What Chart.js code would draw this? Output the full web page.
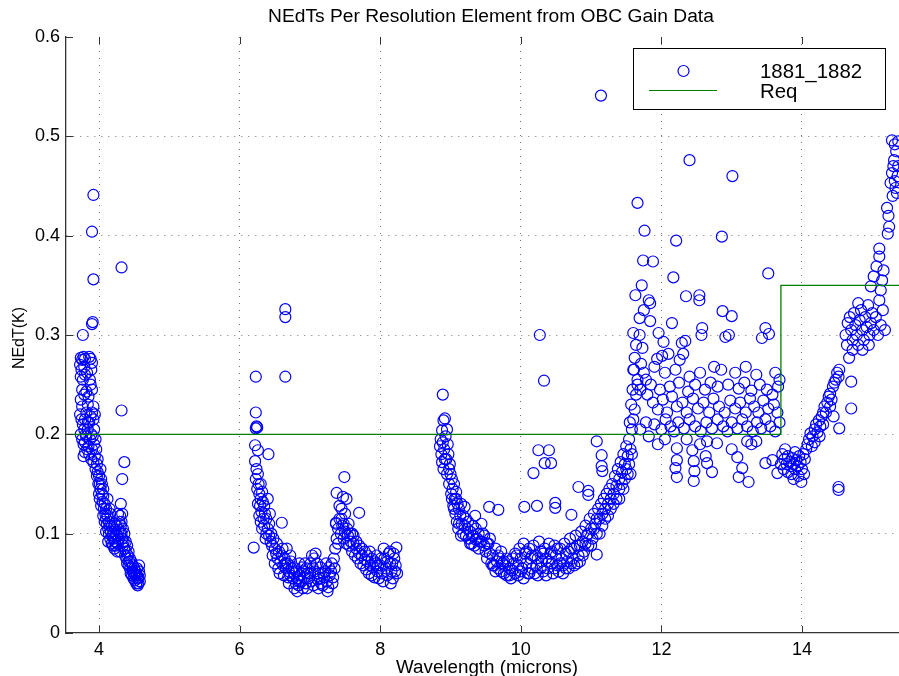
<!DOCTYPE html>
<html>
<head>
<meta charset="utf-8">
<script src="https://cdn.jsdelivr.net/npm/chart.js@4/dist/chart.umd.min.js"></script>
<style>
html,body{margin:0;padding:0;background:#fff;}
#c{display:block;}
</style>
</head>
<body>
<canvas id="c" width="899" height="676"></canvas>
<script>
// ---------------- DATA ----------------
const chartTitle = "NEdTs Per Resolution Element from OBC Gain Data";
const xAxisTitle = "Wavelength (microns)";
const yAxisTitle = "NEdT(K)";
const seriesName = "1881_1882";
const reqName = "Req";

const xTicks = [4, 6, 8, 10, 12, 14];
const yTicks = [0, 0.1, 0.2, 0.3, 0.4, 0.5, 0.6];
const xRange = [3.53, 15.38];
const yRange = [0, 0.6];

// Requirement line (wavelength, NEdT)
const reqWavelength = [3.53, 13.70, 13.70, 15.38];
const reqNedt = [0.2, 0.2, 0.35, 0.35];

// Band 1 : short-wave (wavelength, NEdT)
const band1 = [
[3.77,0.300],[3.74,0.277],[3.76,0.275],[3.78,0.278],[3.80,0.276],[3.73,0.270],[3.75,0.265],[3.79,0.268],
[3.74,0.258],[3.77,0.255],[3.80,0.260],[3.83,0.262],[3.86,0.278],[3.88,0.276],[3.90,0.272],[3.89,0.265],
[3.87,0.255],[3.76,0.245],[3.79,0.240],[3.82,0.243],[3.85,0.238],[3.88,0.250],[3.90,0.245],[3.84,0.230],
[3.92,0.441],[3.90,0.404],[4.32,0.368],[3.92,0.356],[3.91,0.313],[3.90,0.311],[4.32,0.224],[4.36,0.172],[4.33,0.155],
[3.73,0.220],[3.75,0.215],[3.77,0.210],[3.79,0.205],[3.81,0.200],[3.74,0.200],[3.76,0.195],[3.78,0.190],
[3.80,0.192],[3.82,0.198],[3.84,0.205],[3.86,0.212],[3.88,0.218],[3.90,0.222],[3.92,0.215],[3.93,0.205],
[3.91,0.198],[3.89,0.200],[3.87,0.195],[3.85,0.188],[3.83,0.185],[3.86,0.180],[3.80,0.182],[3.78,0.178],
[3.90,0.185],[3.93,0.190],[3.95,0.195],[3.96,0.185],[3.94,0.178],[3.97,0.170],[3.92,0.172],[3.89,0.175],[3.98,0.175],
[3.98,0.162],[4.00,0.158],[4.01,0.150],[4.03,0.155],[4.02,0.145],[4.04,0.140],[4.00,0.140],[4.05,0.132],
[4.06,0.138],[4.07,0.125],[4.03,0.128],[4.08,0.130],[4.09,0.120],[4.10,0.115],[4.06,0.118],[4.11,0.110],
[4.12,0.118],[4.13,0.105],[4.10,0.102],[4.14,0.100],[4.15,0.108],[4.16,0.095],[4.13,0.092],[4.17,0.102],
[4.18,0.090],[4.19,0.098],[4.20,0.088],[4.21,0.095],[4.22,0.085],[4.23,0.092],[4.24,0.100],[4.25,0.108],
[4.26,0.098],[4.27,0.090],[4.28,0.104],[4.29,0.112],[4.30,0.118],[4.31,0.108],[4.32,0.100],[4.33,0.095],
[4.34,0.088],[4.30,0.082],[4.35,0.092],[4.36,0.085],[4.37,0.078],[4.38,0.082],[4.39,0.075],[4.40,0.070],
[4.41,0.078],[4.42,0.068],[4.43,0.072],[4.44,0.065],[4.45,0.060],[4.46,0.066],[4.47,0.058],[4.48,0.062],
[4.49,0.055],[4.50,0.060],[4.51,0.053],[4.52,0.058],[4.53,0.050],[4.55,0.055],[4.56,0.050],[4.57,0.062],
[4.58,0.058],[4.54,0.065],[4.57,0.068],[4.27,0.120],[4.31,0.130],[4.33,0.120],[4.12,0.135],[4.15,0.125],
[4.02,0.165],[4.04,0.150],[4.06,0.145],[4.08,0.112],[4.10,0.125],[4.14,0.112],[4.16,0.120],[4.18,0.108],
[4.20,0.100],[4.22,0.110],[4.24,0.088],[4.26,0.082],[4.28,0.095],[4.30,0.100],[4.32,0.112],[4.34,0.105],
[4.36,0.100],[4.38,0.092],[4.40,0.088],[4.42,0.082],[4.44,0.075],[4.46,0.072],[4.48,0.068],[4.50,0.065],
[4.52,0.062],[4.54,0.058],[4.56,0.056],[4.58,0.052],[4.55,0.048],[3.95,0.165],[3.97,0.158],[3.99,0.150],
[4.01,0.135],[3.84,0.212],[3.82,0.222],[3.80,0.215],[3.76,0.228],[3.74,0.235],[3.92,0.228],[3.94,0.220]
];

// Band 2 : mid-wave (wavelength, NEdT)
const band2 = [
[6.23,0.258],[6.65,0.258],[6.65,0.318],[6.65,0.326],[6.23,0.222],[6.24,0.208],[6.23,0.206],[6.25,0.207],
[6.22,0.189],[6.26,0.184],[6.41,0.180],[6.22,0.173],[6.24,0.165],[6.26,0.160],[6.23,0.155],[6.27,0.150],
[6.25,0.145],[6.28,0.140],[6.30,0.135],[6.26,0.130],[6.29,0.128],[6.33,0.132],[6.31,0.122],[6.28,0.118],
[6.34,0.115],[6.36,0.120],[6.30,0.112],[6.32,0.105],[6.35,0.108],[6.38,0.100],[6.40,0.105],[6.42,0.098],
[6.37,0.095],[6.60,0.111],[6.20,0.086],[6.40,0.135],[6.43,0.120],
[6.44,0.092],[6.46,0.088],[6.48,0.095],[6.50,0.085],[6.52,0.080],[6.47,0.078],[6.54,0.075],[6.56,0.082],
[6.58,0.072],[6.60,0.078],[6.62,0.068],[6.64,0.075],[6.66,0.065],[6.68,0.070],[6.70,0.062],[6.72,0.058],
[6.74,0.065],[6.76,0.055],[6.78,0.060],[6.80,0.050],[6.82,0.055],[6.84,0.048],[6.86,0.058],[6.88,0.052],
[6.90,0.062],[6.92,0.056],[6.94,0.050],[6.96,0.045],[6.98,0.055],[7.00,0.060],[7.02,0.052],[7.04,0.066],
[7.06,0.075],[7.08,0.080],[7.10,0.070],[7.12,0.060],[7.14,0.055],[7.16,0.050],[7.18,0.048],[7.20,0.056],
[7.22,0.062],[7.24,0.052],[7.26,0.046],[7.28,0.058],[7.30,0.062],[7.32,0.050],[6.78,0.045],[6.82,0.042],
[6.90,0.045],[7.05,0.048],[7.12,0.045],[7.25,0.042],[6.70,0.050],[6.63,0.058],[6.55,0.065],[6.95,0.065],
[7.35,0.065],[6.67,0.085],[6.72,0.078],[6.85,0.070],
[7.34,0.075],[7.36,0.085],[7.38,0.095],[7.40,0.105],[7.37,0.110],[7.38,0.141],[7.49,0.157],[7.47,0.137],
[7.52,0.135],[7.45,0.125],[7.50,0.120],[7.70,0.121],[7.37,0.111],[7.42,0.115],[7.44,0.100],[7.46,0.108],
[7.48,0.095],[7.50,0.102],[7.52,0.090],[7.54,0.098],[7.56,0.088],[7.58,0.092],[7.60,0.082],[7.62,0.090],
[7.64,0.078],[7.66,0.085],[7.68,0.075],[7.70,0.080],[7.72,0.070],[7.74,0.078],[7.76,0.068],[7.78,0.074],
[7.80,0.064],[7.82,0.072],[7.84,0.060],[7.86,0.068],[7.88,0.058],[7.90,0.066],[7.92,0.056],[7.94,0.070],
[7.96,0.062],[7.98,0.055],[8.00,0.068],[8.02,0.060],[8.04,0.052],[8.06,0.075],[8.08,0.065],[8.10,0.058],
[8.12,0.080],[8.14,0.070],[8.16,0.062],[8.18,0.055],[8.20,0.075],[8.22,0.068],[8.23,0.086],[8.24,0.060],
[8.19,0.080],[7.85,0.082],[7.95,0.078],[8.05,0.085],[8.15,0.050],[7.40,0.090],[7.55,0.110],[7.60,0.100],
[6.50,0.070],[6.53,0.090],[6.57,0.060],[6.61,0.085],[6.65,0.070],[6.69,0.056],[6.73,0.072],[6.77,0.066],
[6.81,0.062],[6.85,0.052],[6.89,0.066],[6.93,0.070],[6.97,0.060],[7.01,0.070],[7.03,0.078],[7.07,0.062],
[7.11,0.054],[7.15,0.066],[7.19,0.060],[7.23,0.070],[7.27,0.066],[7.31,0.070],[7.33,0.056],[6.30,0.150],
[6.32,0.142],[6.35,0.128],[6.38,0.115],[6.42,0.110],[6.45,0.100],
[7.42,0.128],[7.45,0.115],[7.48,0.110],[7.53,0.105],[7.57,0.100],[7.62,0.098],[7.66,0.092],[7.70,0.088],
[7.74,0.085],[7.78,0.082],[7.82,0.078],[7.88,0.075],[7.92,0.072],[7.97,0.068],[8.01,0.075],[8.10,0.072],
[8.14,0.082],[8.17,0.070],[8.21,0.062]
];

// Band 3 : long-wave lower part (wavelength, NEdT)
const band3 = [
[8.89,0.240],[8.92,0.216],[8.90,0.214],[8.88,0.204],[8.86,0.195],[8.85,0.188],[8.87,0.180],[8.89,0.192],
[8.91,0.185],[8.93,0.198],[8.95,0.205],[8.96,0.190],[8.94,0.175],[8.88,0.172],[8.90,0.165],[8.97,0.180],
[8.99,0.170],[9.00,0.160],[9.02,0.155],[8.98,0.150],[9.03,0.145],[9.05,0.150],[9.01,0.140],[9.06,0.135],
[9.08,0.142],[9.04,0.128],[9.10,0.130],[9.07,0.120],[9.12,0.125],[9.09,0.112],[9.14,0.118],[9.11,0.105],
[9.16,0.110],[9.18,0.100],[9.20,0.108],[9.15,0.098],[9.22,0.115],[9.24,0.105],[9.26,0.095],[9.28,0.102],
[9.30,0.090],[9.32,0.098],[9.34,0.088],[9.36,0.105],[9.38,0.095],[9.40,0.085],[9.42,0.092],[9.44,0.110],
[9.46,0.100],[9.48,0.088],[9.50,0.082],[9.52,0.075],[9.54,0.090],[9.56,0.080],[9.58,0.070],[9.60,0.078],
[9.62,0.068],[9.64,0.085],[9.66,0.072],[9.68,0.065],[9.70,0.075],[9.72,0.062],[9.74,0.070],[9.76,0.060],
[9.78,0.068],[9.80,0.058],[9.82,0.072],[9.84,0.065],[9.86,0.055],[9.88,0.063],[9.90,0.070],[9.92,0.060],
[9.94,0.078],[9.96,0.068],[9.98,0.085],[10.00,0.075],[10.02,0.065],[10.04,0.090],[10.06,0.080],[10.08,0.070],
[10.10,0.060],[10.12,0.085],[10.14,0.075],[10.16,0.065],[10.18,0.088],[10.20,0.078],[10.22,0.068],[10.24,0.058],
[10.26,0.092],[10.28,0.082],[10.30,0.072],[10.32,0.062],[10.34,0.085],[10.36,0.075],[10.38,0.065],[10.40,0.090],
[10.42,0.080],[10.44,0.070],[10.46,0.060],[10.48,0.088],[10.50,0.078],[10.52,0.068],[10.54,0.062],[10.56,0.085],
[10.58,0.075],[10.60,0.068],[10.62,0.090],[10.64,0.080],[10.66,0.072],[10.68,0.065],[10.70,0.095],[10.72,0.085],
[10.74,0.075],[10.76,0.068],[10.78,0.098],[10.80,0.088],[10.82,0.078],[10.84,0.072],[10.86,0.102],[10.88,0.092],
[10.90,0.082],[10.92,0.108],[10.94,0.098],[10.96,0.088],[10.98,0.115],[11.00,0.105],[11.02,0.095],[11.04,0.120],
[11.06,0.110],[11.08,0.100],[11.10,0.125],[11.12,0.115],[11.14,0.130],[11.16,0.120],[11.18,0.135],[11.20,0.125],
[11.22,0.140],[11.24,0.130],[11.26,0.145],[11.28,0.135],[11.30,0.150],[11.32,0.140],[11.34,0.158],[11.36,0.148],
[11.38,0.165],[11.40,0.155],[11.42,0.172],[11.44,0.162],[11.46,0.180],[11.48,0.170],[11.50,0.188],[11.52,0.178],
[11.54,0.195],[11.56,0.185],[11.58,0.205],[11.60,0.215],[11.62,0.225],[11.64,0.240],[11.66,0.255],[11.55,0.212],
[11.57,0.230],[11.52,0.160],[11.46,0.145],[11.40,0.135],[11.59,0.245],[11.61,0.265],
[10.27,0.300],[10.33,0.254],[11.14,0.541],[10.25,0.184],[10.40,0.184],[10.34,0.171],[10.43,0.171],[10.18,0.161],
[10.82,0.147],[10.96,0.143],[10.96,0.139],[11.08,0.193],[11.15,0.179],[11.15,0.168],[11.16,0.163],[10.05,0.127],
[10.23,0.128],[10.49,0.131],[10.49,0.126],[10.72,0.119],[11.08,0.079],[9.20,0.127],[9.35,0.118],[9.55,0.127],[9.68,0.124],
[8.92,0.175],[8.95,0.160],[8.98,0.165],[9.02,0.135],[9.05,0.125],[9.08,0.135],[9.12,0.110],[9.15,0.130],
[9.18,0.118],[9.22,0.098],[9.25,0.112],[9.28,0.090],[9.32,0.108],[9.36,0.094],[9.40,0.100],[9.44,0.092],
[9.48,0.098],[9.52,0.090],[9.56,0.095],[9.60,0.068],[9.64,0.062],[9.68,0.078],[9.72,0.082],[9.76,0.072],
[9.80,0.075],[9.84,0.058],[9.88,0.075],[9.92,0.080],[9.96,0.058],[10.00,0.062],[10.04,0.055],[10.08,0.082],
[10.12,0.060],[10.16,0.078],[10.20,0.060],[10.24,0.075],[10.28,0.065],[10.32,0.080],[10.36,0.058],[10.40,0.072],
[10.44,0.082],[10.48,0.065],[10.52,0.085],[10.56,0.070],[10.60,0.060],[10.64,0.065],[10.68,0.082],[10.72,0.070],
[10.76,0.085],[10.80,0.070],[10.84,0.088],[10.88,0.078],[10.92,0.090],[10.96,0.100],[11.00,0.088],[11.04,0.105],
[11.08,0.115],[11.12,0.100],[11.16,0.108],[11.20,0.115],[11.24,0.118],[11.28,0.125],[11.32,0.130],[11.36,0.135],
[11.40,0.145],[11.44,0.150],[11.48,0.155],[11.50,0.165],[11.54,0.170],[11.58,0.180],[11.56,0.160]
];

// Band 4 : long-wave scattered part (wavelength, NEdT)
const band4 = [
[11.66,0.433],[11.76,0.405],[12.21,0.395],[12.86,0.399],[11.74,0.375],[11.88,0.374],[12.17,0.358],[13.52,0.362],
[11.72,0.350],[11.63,0.340],[12.35,0.339],[12.54,0.340],[12.54,0.335],[11.82,0.335],[11.84,0.332],[11.75,0.325],
[11.69,0.317],[12.87,0.324],[13.00,0.319],[11.84,0.314],[12.15,0.312],[12.58,0.307],[12.57,0.300],[13.48,0.307],
[13.53,0.301],[13.43,0.297],[12.91,0.298],[12.96,0.300],[11.96,0.302],[12.03,0.293],[12.34,0.294],[12.29,0.292],
[12.40,0.476],[13.01,0.460],
[11.60,0.302],[11.69,0.300],[11.64,0.290],[11.73,0.287],[11.62,0.277],[11.71,0.271],[11.60,0.265],[11.75,0.262],
[11.78,0.255],[11.66,0.250],[11.70,0.245],[11.80,0.240],[12.10,0.281],[12.01,0.279],[11.94,0.276],[12.26,0.275],[12.31,0.281],
[11.90,0.268],[12.05,0.262],[12.20,0.265],[12.40,0.258],[12.55,0.262],[12.75,0.268],[12.85,0.265],[13.05,0.262],
[13.20,0.268],[13.35,0.260],[13.62,0.262],[13.68,0.255],
[11.85,0.250],[11.98,0.245],[12.12,0.248],[12.25,0.252],[12.38,0.243],[12.48,0.250],[12.62,0.245],[12.70,0.252],
[12.80,0.248],[12.95,0.250],[13.10,0.246],[13.18,0.252],[13.28,0.244],[13.40,0.250],[13.50,0.245],[13.58,0.240],[13.66,0.248],
[11.88,0.232],[11.95,0.225],[12.02,0.235],[12.08,0.222],[12.15,0.238],[12.22,0.228],[12.30,0.232],[12.36,0.222],
[12.45,0.236],[12.52,0.226],[12.60,0.232],[12.68,0.222],[12.74,0.236],[12.82,0.228],[12.90,0.222],[12.98,0.234],
[13.05,0.226],[13.12,0.232],[13.20,0.222],[13.26,0.236],[13.32,0.228],[13.38,0.222],[13.45,0.234],[13.52,0.226],
[13.60,0.230],[13.65,0.222],
[11.90,0.210],[12.00,0.205],[12.06,0.215],[12.13,0.208],[12.18,0.203],[12.24,0.212],[12.32,0.206],[12.40,0.215],
[12.48,0.208],[12.56,0.203],[12.64,0.212],[12.72,0.206],[12.80,0.215],[12.88,0.208],[12.94,0.203],[13.00,0.212],
[13.08,0.206],[13.15,0.215],[13.22,0.208],[13.30,0.203],[13.36,0.212],[13.42,0.206],[13.48,0.215],[13.55,0.208],
[13.62,0.203],[13.68,0.212],[11.70,0.205],[11.78,0.212],[11.82,0.198],
[12.22,0.186],[12.22,0.174],[12.20,0.166],[12.22,0.157],[12.44,0.184],[12.46,0.173],[12.47,0.163],[12.46,0.153],
[12.63,0.178],[12.65,0.171],[12.79,0.191],[12.65,0.193],[13.08,0.177],[13.15,0.166],[13.10,0.157],[13.24,0.152],
[13.22,0.193],[13.28,0.190],[13.35,0.193],[13.48,0.171],[13.58,0.174],[13.65,0.161],[12.72,0.162],[12.36,0.195],
[13.00,0.185],[12.55,0.190],[11.95,0.190],[12.05,0.195]
];

// Band 5 : long-wave upper edge (wavelength, NEdT)
const band5 = [
[13.72,0.180],[13.75,0.175],[13.78,0.170],[13.80,0.178],[13.82,0.172],[13.84,0.168],[13.86,0.176],[13.88,0.170],
[13.90,0.165],[13.92,0.174],[13.94,0.168],[13.96,0.178],[13.98,0.172],[14.00,0.165],[14.02,0.180],[14.04,0.175],
[13.76,0.185],[13.80,0.162],[13.85,0.160],[13.90,0.182],[13.95,0.158],[13.99,0.152],[14.06,0.185],[14.08,0.190],
[13.74,0.165],[13.70,0.170],[13.88,0.155],[14.03,0.160],[14.52,0.147],[14.52,0.144],
[14.10,0.195],[14.12,0.201],[14.15,0.198],[14.18,0.205],[14.20,0.210],[14.22,0.202],[14.24,0.214],[14.26,0.208],
[14.28,0.218],[14.30,0.222],[14.32,0.228],[14.34,0.222],[14.36,0.232],[14.38,0.238],[14.40,0.241],[14.42,0.235],
[14.44,0.248],[14.46,0.252],[14.48,0.255],[14.50,0.262],[14.52,0.258],[14.53,0.265],[14.14,0.188],[14.18,0.192],
[14.25,0.198],[14.30,0.210],[14.40,0.228],[14.53,0.206],[14.70,0.253],[14.70,0.226],[14.67,0.277],[14.45,0.218],
[14.62,0.300],[14.65,0.312],[14.68,0.318],[14.70,0.305],[14.72,0.295],[14.74,0.322],[14.76,0.310],[14.78,0.300],
[14.80,0.290],[14.82,0.315],[14.84,0.325],[14.86,0.305],[14.88,0.295],[14.90,0.318],[14.92,0.308],[14.94,0.330],
[14.96,0.300],[14.98,0.312],[15.00,0.322],[15.02,0.305],[15.05,0.318],[15.08,0.300],[15.10,0.335],[15.12,0.310],
[15.15,0.325],[15.18,0.305],[14.64,0.290],[14.72,0.285],[14.80,0.332],[14.86,0.285],[14.95,0.290],
[14.98,0.349],[15.02,0.359],[15.06,0.369],[15.10,0.379],[15.10,0.387],[15.12,0.345],[15.14,0.355],[15.16,0.365],
[15.21,0.428],[15.24,0.409],[15.22,0.402],[15.23,0.420],[15.28,0.496],[15.32,0.492],[15.31,0.476],[15.28,0.463],
[15.26,0.453],[15.33,0.448],[15.35,0.443],[15.30,0.470],[15.34,0.485],[15.36,0.460],[15.29,0.440],[15.32,0.455],
[15.37,0.495],[15.37,0.470]
];

// ---------------- STYLE ----------------
const FONT = "'Liberation Sans', Arial, Helvetica, sans-serif";
const BLUE = "rgb(0,0,255)";
const GREEN = "rgb(0,128,0)";
const AXIS = "#333";

function toPts(arr) { return arr.map(p => ({x: p[0], y: p[1]})); }
const reqPts = reqWavelength.map((w, i) => ({x: w, y: reqNedt[i]}));

function scatterSet(arr) {
  return {
    type: 'scatter', data: toPts(arr), order: 1,
    pointStyle: 'circle', pointRadius: 5.5, pointBorderWidth: 1.2,
    pointBorderColor: BLUE, pointBackgroundColor: 'rgba(0,0,0,0)', showLine: false
  };
}

const decor = {
  id: 'decor',
  afterDraw(chart) {
    const ctx = chart.ctx, a = chart.chartArea;
    const xs = chart.scales.x, ys = chart.scales.y;
    ctx.save();
    // inward tick marks
    ctx.strokeStyle = AXIS; ctx.lineWidth = 1;
    ctx.beginPath();
    xTicks.forEach(v => {
      const px = Math.round(xs.getPixelForValue(v)) + 0.5;
      ctx.moveTo(px, a.bottom); ctx.lineTo(px, a.bottom - 7);
      ctx.moveTo(px, a.top); ctx.lineTo(px, a.top + 7);
    });
    yTicks.forEach(v => {
      const py = Math.round(ys.getPixelForValue(v)) + 0.5;
      ctx.moveTo(a.left, py); ctx.lineTo(a.left + 7, py);
    });
    ctx.stroke();
    // title
    ctx.fillStyle = '#000';
    ctx.font = "19.2px " + FONT;
    ctx.textAlign = 'center'; ctx.textBaseline = 'middle';
    ctx.fillText(chartTitle, 491, 17);
    // x title
    ctx.font = "18.8px " + FONT;
    ctx.textBaseline = 'alphabetic';
    ctx.fillText(xAxisTitle, 487, 673);
    // y title
    ctx.save();
    ctx.font = "16px " + FONT;
    ctx.translate(20, 338); ctx.rotate(-Math.PI / 2);
    ctx.textBaseline = 'middle';
    ctx.fillText(yAxisTitle, 0, 0);
    ctx.restore();
    // legend
    ctx.fillStyle = '#fff';
    ctx.fillRect(633, 48, 252, 61);
    ctx.strokeStyle = '#000'; ctx.lineWidth = 1;
    ctx.strokeRect(633.5, 48.5, 252, 61);
    ctx.strokeStyle = BLUE; ctx.lineWidth = 1.2;
    ctx.beginPath(); ctx.arc(683.5, 71, 5.5, 0, Math.PI * 2); ctx.stroke();
    ctx.strokeStyle = GREEN; ctx.lineWidth = 1.2;
    ctx.beginPath(); ctx.moveTo(649, 90.5); ctx.lineTo(717, 90.5); ctx.stroke();
    ctx.fillStyle = '#000';
    ctx.font = "20.4px " + FONT;
    ctx.textAlign = 'left'; ctx.textBaseline = 'middle';
    ctx.fillText(seriesName, 760, 72);
    ctx.fillText(reqName, 760, 92);
    ctx.restore();
  }
};

new Chart(document.getElementById('c'), {
  type: 'scatter',
  data: {
    datasets: [
      {
        type: 'line', data: reqPts, order: 0,
        borderColor: GREEN, borderWidth: 1.3, pointRadius: 0, fill: false, tension: 0, showLine: true
      },
      scatterSet(band1), scatterSet(band2), scatterSet(band3), scatterSet(band4), scatterSet(band5)
    ]
  },
  options: {
    responsive: false,
    animation: false,
    events: [],
    layout: { autoPadding: false, padding: { top: 37, right: 0, left: 0, bottom: 0 } },
    plugins: { legend: { display: false }, tooltip: { enabled: false }, title: { display: false } },
    scales: {
      x: {
        type: 'linear', min: xRange[0], max: xRange[1],
        afterBuildTicks: (s) => { s.ticks = xTicks.map(v => ({value: v})); },
        afterFit: (s) => { s.height = 43; s.paddingLeft = 0; s.paddingRight = 0; },
        ticks: { color: '#000', font: { size: 18, family: FONT }, padding: 6, maxRotation: 0, autoSkip: false,
                 callback: (v) => String(v) },
        grid: { drawTicks: false, lineWidth: 1, color: 'rgba(100,100,100,0.9)' },
        border: { display: true, color: AXIS, width: 1.3, dash: [1, 6] }
      },
      y: {
        type: 'linear', min: yRange[0], max: yRange[1],
        afterBuildTicks: (s) => { s.ticks = yTicks.map(v => ({value: v})); },
        afterFit: (s) => { s.width = 66; s.paddingTop = 0; s.paddingBottom = 0; },
        ticks: { color: '#000', font: { size: 18, family: FONT }, padding: 6,
                 callback: (v) => String(Math.round(v * 10) / 10) },
        grid: { drawTicks: false, lineWidth: 1,
                color: (c) => (c.tick && (c.tick.value === 0 || c.tick.value === 0.6)) ? 'rgba(0,0,0,0)' : 'rgba(100,100,100,0.9)' },
        border: { display: true, color: AXIS, width: 1.3, dash: [1, 6] }
      }
    }
  },
  plugins: [decor]
});
</script>
</body>
</html>
